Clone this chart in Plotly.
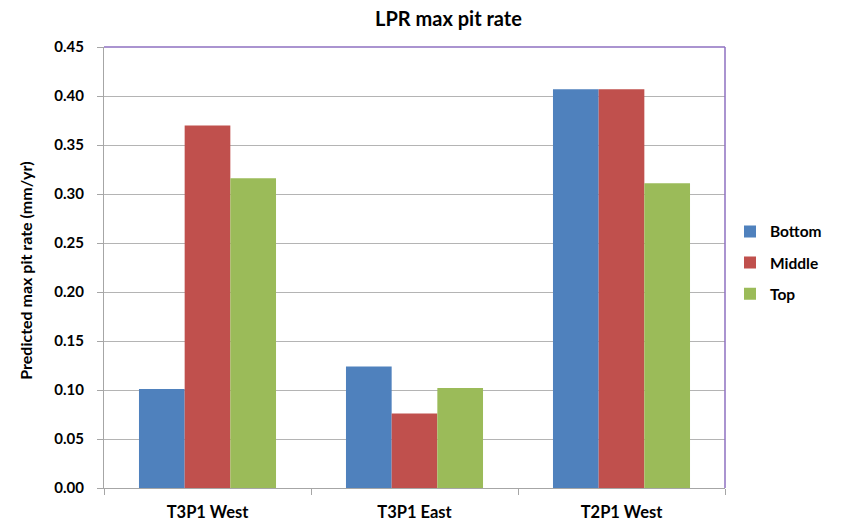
import plotly.graph_objects as go

# Chart data
categories = ["T3P1 West", "T3P1 East", "T2P1 West"]
bottom = [0.101, 0.124, 0.407]
middle = [0.370, 0.076, 0.407]
top = [0.316, 0.102, 0.311]

series = [
    ("Bottom", bottom, "#4F81BD"),
    ("Middle", middle, "#C0504D"),
    ("Top", top, "#9BBB59"),
]

y_ticks = [0.00, 0.05, 0.10, 0.15, 0.20, 0.25, 0.30, 0.35, 0.40, 0.45]
y_labels = [f"{v:.2f}" for v in y_ticks]

FONT = "Lato, 'Open Sans', 'Liberation Sans', sans-serif"

fig = go.Figure()
for i, (name, vals, color) in enumerate(series):
    fig.add_trace(go.Bar(
        name=name,
        x=categories,
        y=vals,
        marker=dict(color=color, line=dict(width=0)),
        legendgroup=f"g{i}",
    ))

# plot geometry in pixels
W, H = 844, 522
L, R, T, B = 104, 725, 47, 488.5
pw, ph = R - L, B - T

fig.update_layout(
    width=W,
    height=H,
    margin=dict(l=L, r=W - R, t=T, b=H - B, pad=0, autoexpand=False),
    paper_bgcolor="white",
    plot_bgcolor="white",
    barmode="group",
    bargap=0.338,
    bargroupgap=0,
    font=dict(family=FONT, size=14, color="#000000"),
    showlegend=True,
    legend=dict(
        x=(730 - L) / pw,
        y=(B - 215) / ph,
        xanchor="left",
        yanchor="top",
        font=dict(family=FONT, size=15.5, color="#000000", weight="bold"),
        tracegroupgap=8,
        itemwidth=30,
        bgcolor="rgba(0,0,0,0)",
    ),
    xaxis=dict(
        automargin=False,
        showgrid=False,
        showline=True,
        linecolor="#A6A6A6",
        linewidth=1,
        ticks="outside",
        tickson="boundaries",
        ticklen=6,
        tickcolor="#A6A6A6",
        tickfont=dict(family=FONT, size=16.5, weight="bold"),
        ticklabelstandoff=9,
        zeroline=False,
    ),
    yaxis=dict(
        automargin=False,
        range=[0, 0.45],
        tickvals=y_ticks,
        ticktext=y_labels,
        showgrid=True,
        gridcolor="#B4B4B4",
        gridwidth=1,
        showline=True,
        linecolor="#A6A6A6",
        linewidth=1,
        ticks="outside",
        ticklen=6,
        tickcolor="#A6A6A6",
        tickfont=dict(family=FONT, size=15, weight="bold"),
        ticklabelstandoff=10,
        zeroline=False,
    ),
)

# plot area border along the top and right edges
fig.add_shape(type="line", xref="paper", yref="paper", x0=0, x1=1, y0=1, y1=1,
              line=dict(color="#8E70C0", width=1.5))
fig.add_shape(type="line", xref="paper", yref="paper", x0=1, x1=1, y0=0, y1=1,
              line=dict(color="#8E70C0", width=1.5))

# chart title
fig.add_annotation(
    text="LPR max pit rate",
    xref="paper", yref="paper",
    x=(448 - L) / pw, y=(B - 18) / ph,
    xanchor="center", yanchor="middle",
    showarrow=False,
    font=dict(family=FONT, size=20, weight="bold", color="#000000"),
)

# y-axis title
fig.add_annotation(
    text="Predicted max pit rate (mm/yr)",
    xref="paper", yref="paper",
    x=(26 - L) / pw, y=(B - 271) / ph,
    xanchor="center", yanchor="middle",
    textangle=-90,
    showarrow=False,
    font=dict(family=FONT, size=16, weight="bold", color="#000000"),
)

fig.write_html("out.html")
